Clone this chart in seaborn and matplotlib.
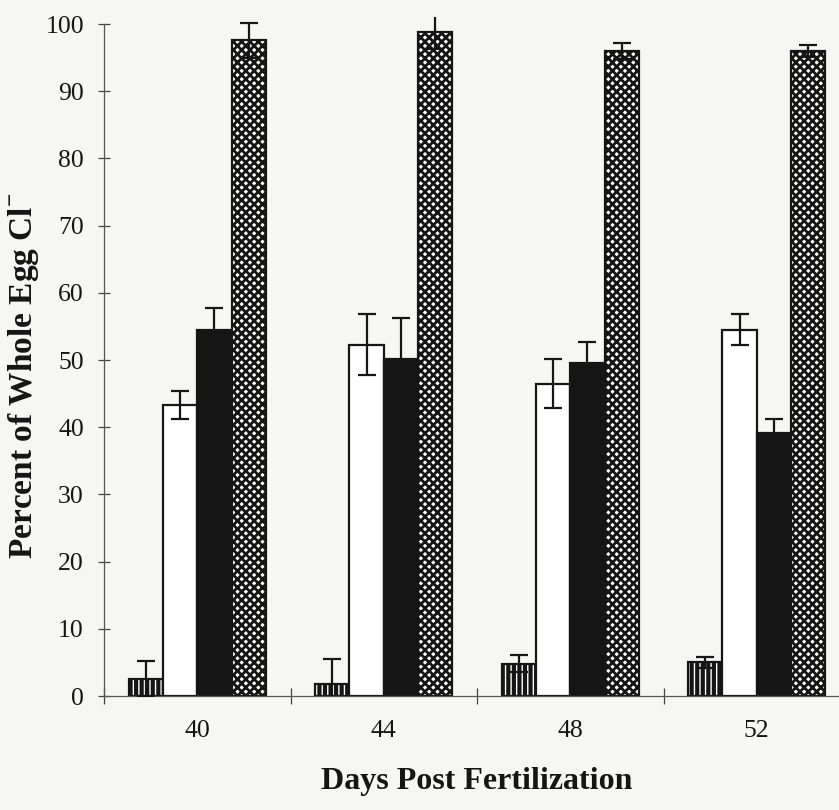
import matplotlib
matplotlib.use("Agg")
import matplotlib.pyplot as plt
import seaborn as sns
import pandas as pd

# Percent of whole-egg chloride held in each fraction, by day post fertilization
days = ["40", "44", "48", "52"]
fractions = ["Fraction 1", "Fraction 2", "Fraction 3", "Fraction 4"]
means = {
    "Fraction 1": [2.6, 1.8, 4.8, 5.0],
    "Fraction 2": [43.3, 52.3, 46.5, 54.5],
    "Fraction 3": [54.5, 50.2, 49.5, 39.2],
    "Fraction 4": [97.6, 98.8, 96.0, 96.0],
}
errors = {
    "Fraction 1": [2.6, 3.7, 1.3, 0.8],
    "Fraction 2": [2.1, 4.5, 3.6, 2.3],
    "Fraction 3": [3.2, 6.0, 3.2, 2.0],
    "Fraction 4": [2.6, 2.5, 1.2, 0.9],
}
y_ticks = [0, 10, 20, 30, 40, 50, 60, 70, 80, 90, 100]

rows = []
for f in fractions:
    for d, m in zip(days, means[f]):
        rows.append({"day": d, "fraction": f, "pct": m})
df = pd.DataFrame(rows)

sns.set_style("white")
plt.rcParams["font.family"] = ["Liberation Serif", "DejaVu Serif"]
plt.rcParams["mathtext.fontset"] = "custom"
plt.rcParams["mathtext.rm"] = "Liberation Serif:bold"
plt.rcParams["mathtext.bf"] = "Liberation Serif:bold"
plt.rcParams["hatch.linewidth"] = 2.0
plt.rcParams["hatch.color"] = "#151515"

bg = "#f6f6f3"
ink = "#151515"
fig = plt.figure(figsize=(8.39, 8.10), dpi=100, facecolor=bg)
ax = fig.add_axes([0.12396, 0.14074, 0.88915, 0.8379])
ax.set_facecolor(bg)

fill = ["white", "white", ink, "white"]
hatches = ["|||", "", "", "xxxx"]
hatch_widths = [3.0, 2.0, 2.0, 2.0]

sns.barplot(data=df, x="day", y="pct", hue="fraction", order=days,
            hue_order=fractions, palette=fill, width=0.735,
            errorbar=None, legend=False, edgecolor=ink, linewidth=1.6,
            saturation=1, ax=ax)

for cont, f, h, hw in zip(ax.containers, fractions, hatches, hatch_widths):
    xs = []
    for bar in cont:
        bar.set_hatch(h)
        if hasattr(bar, "set_hatch_linewidth"):
            bar.set_hatch_linewidth(hw)
        bar.set_edgecolor(ink)
        bar.set_zorder(2)
        xs.append(bar.get_x() + bar.get_width() / 2)
    ax.errorbar(xs, means[f], yerr=errors[f], fmt="none", ecolor=ink,
                elinewidth=1.6, capsize=6.5, capthick=1.6, zorder=3)

ax.set_ylim(0, 101)
ax.set_xlim(-0.5, 3.5)
ax.set_yticks(y_ticks)
ax.set_yticklabels([str(t) for t in y_ticks])

# category boundary ticks on the x axis; labels sit at group centres without ticks
ax.set_xticks([-0.5, 0.5, 1.5, 2.5, 3.5], minor=True)
ax.tick_params(axis="x", which="major", bottom=True, length=0, pad=17,
               labelsize=18.5, colors=ink)
ax.tick_params(axis="x", which="minor", bottom=True, direction="inout",
               length=11, width=0.9, color="#444444")
ax.tick_params(axis="y", which="major", left=True, direction="inout",
               length=9, width=0.9, color="#444444", pad=10, labelsize=18.5,
               labelcolor=ink)

for s in ["top", "right"]:
    ax.spines[s].set_visible(False)
for s in ["left", "bottom"]:
    ax.spines[s].set_color("#555555")
    ax.spines[s].set_linewidth(0.9)
ax.spines["left"].set_bounds(0, 100)

ax.set_xlabel("Days Post Fertilization", fontsize=23, fontweight="bold",
              labelpad=18, color=ink)
ax.set_ylabel("Percent of Whole Egg Cl$^{-}$", fontsize=24,
              fontweight="bold", color=ink)
ax.yaxis.set_label_coords(-0.085, 0.4715)

fig.savefig("out.png", dpi=100, facecolor=bg)
